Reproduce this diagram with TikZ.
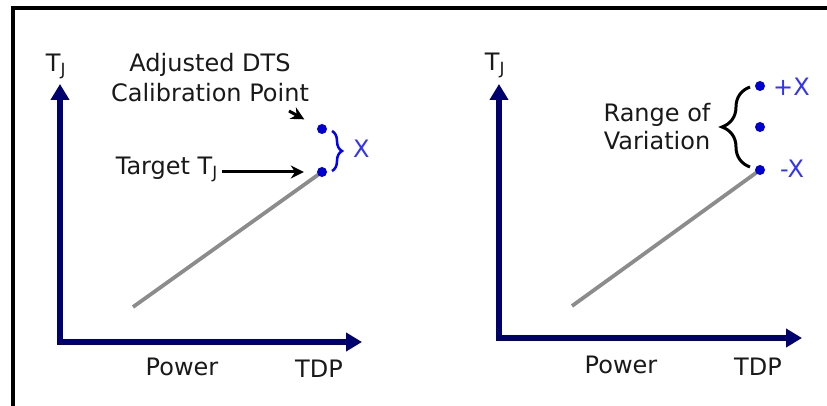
\documentclass[tikz,border=0pt]{standalone}
\usepackage{fontspec}
\setmainfont{DejaVu Sans}
\usetikzlibrary{arrows.meta,decorations.pathreplacing}
\definecolor{axisblue}{RGB}{0,0,110}
\definecolor{dotblue}{RGB}{0,0,210}
\definecolor{lblblue}{RGB}{50,50,255}
\definecolor{curvegray}{RGB}{140,140,140}
\tikzset{
  axisline/.style={draw=axisblue, line width=5.5pt, line join=miter,
    {Triangle[length=16pt,width=18pt]}-{Triangle[length=16pt,width=18pt]}},
  curve/.style={draw=curvegray, line width=3.8pt},
  dot/.style={circle, fill=dotblue, inner sep=0pt, minimum size=10pt},
  lbl/.style={font=\fontsize{24}{28}\selectfont, text=black!90, inner sep=0pt, anchor=base},
  bluelbl/.style={font=\fontsize{24}{28}\selectfont, text=lblblue, inner sep=0pt, anchor=base west},
  pointer/.style={draw=black, line width=3pt, -{Stealth[length=13pt,width=13pt]}},
  bluebrace/.style={draw=blue, line width=2.5pt, decorate, decoration={brace, amplitude=10pt}},
  blackbrace/.style={draw=black, line width=3pt, decorate, decoration={brace, amplitude=28pt}},
}
\begin{document}
\begin{tikzpicture}[x=1pt,y=-1pt]
\useasboundingbox (0,0) rectangle (827,406);
% frame
\draw[line width=3.5pt] (13,406) -- (13,8) -- (827,8);

% ---------- left chart ----------
\coordinate (o1) at (60,342);
\coordinate (yt1) at (60,84);
\coordinate (xt1) at (362,342);
\draw[axisline] (yt1) -- (o1) -- (xt1);
\coordinate (s1) at (133,307);
\coordinate (e1) at (322,172);
\draw[curve] (s1) -- (e1);
\node[dot] (a0) at (322,172) {};
\node[dot] (a1) at (322,129) {};
\node[lbl] (tj1) at (56,72) {T\textsubscript{J}};
\node[lbl] (adj1) at (210,72) {Adjusted DTS};
\node[lbl] (adj2) at (210,102) {Calibration Point};
\node[lbl, anchor=base east] (tgt) at (218,175) {Target T\textsubscript{J}};
\coordinate (p1) at (289,111);
\draw[pointer, shorten >=15pt] (p1) -- (a1);
\draw[pointer, shorten >=13pt, shorten <=4pt] (tgt.east |- a0) -- (a0);
\coordinate (bt1) at (332,131);
\coordinate (bb1) at (332,171);
\draw[bluebrace] (bt1) -- (bb1);
\node[bluelbl] (x1) at (353,158) {X};
\node[lbl] (pw1) at (182,375) {Power};
\node[lbl] (tdp1) at (319,377) {TDP};

% ---------- right chart ----------
\coordinate (o2) at (499,338);
\coordinate (yt2) at (499,84);
\coordinate (xt2) at (802,338);
\draw[axisline] (yt2) -- (o2) -- (xt2);
\coordinate (s2) at (572,306);
\coordinate (e2) at (760,170);
\draw[curve] (s2) -- (e2);
\node[dot] (b0) at (760,170) {};
\node[dot] (b1) at (760,127) {};
\node[dot] (b2) at (760,86) {};
\node[lbl] (tj2) at (495,71) {T\textsubscript{J}};
\node[bluelbl] (px) at (773,96) {+X};
\node[bluelbl] (mx) at (780,178) {-X};
\coordinate (bt2) at (750,87);
\coordinate (bb2) at (750,167);
\draw[blackbrace] (bb2) -- (bt2);
\node[lbl] (rg1) at (657,122) {Range of};
\node[lbl] (rg2) at (657,150) {Variation};
\node[lbl] (pw2) at (621,373) {Power};
\node[lbl] (tdp2) at (758,375) {TDP};
\end{tikzpicture}
\end{document}
